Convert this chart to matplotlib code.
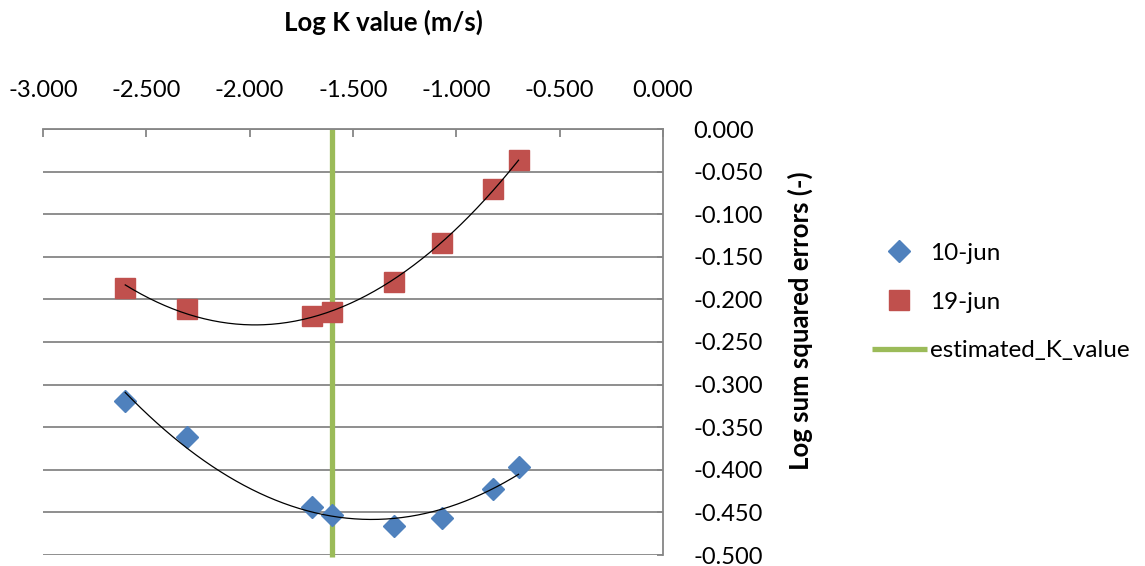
import numpy as np
import matplotlib
matplotlib.use('Agg')
import matplotlib.pyplot as plt

plt.rcParams['font.family'] = ['Lato', 'DejaVu Sans']

# log10 of K values tried (m/s)
log_k = [-2.602, -2.301, -1.699, -1.602, -1.301, -1.071, -0.824, -0.699]
# log sum squared errors per date
jun10 = [-0.319, -0.362, -0.444, -0.453, -0.466, -0.456, -0.422, -0.397]
jun19 = [-0.187, -0.211, -0.220, -0.215, -0.179, -0.134, -0.071, -0.036]
estimated_k = -1.602

x_ticks = [-3.0, -2.5, -2.0, -1.5, -1.0, -0.5, 0.0]
y_ticks = [0.0, -0.05, -0.1, -0.15, -0.2, -0.25, -0.3, -0.35, -0.4, -0.45, -0.5]

GRID = '#868686'
W, H = 1145, 566

fig = plt.figure(figsize=(W / 100, H / 100), dpi=100)
ax = fig.add_axes([43 / W, 1 - 555 / H, 620 / W, 426 / H])

ax.set_xlim(-3.0, 0.0)
ax.set_ylim(-0.5, 0.0)

for y in y_ticks:
    ax.axhline(y, color=GRID, lw=1.3, zorder=1)

# quadratic trendlines (like Excel's polynomial trendline)
xs = np.linspace(min(log_k), max(log_k), 200)
for series in (jun10, jun19):
    coef = np.polyfit(log_k, series, 2)
    ax.plot(xs, np.polyval(coef, xs), color='black', lw=0.9, zorder=4)

ax.plot(log_k, jun10, linestyle='none', marker='D', ms=11, color='#4F81BD',
        label='10-jun', zorder=3)
ax.plot(log_k, jun19, linestyle='none', marker='s', ms=14, color='#C0504D',
        label='19-jun', zorder=3)
ax.plot([estimated_k, estimated_k], [-0.5025, 0.0], color='#9BBB59', lw=3.8,
        label='estimated_K_value', zorder=2, clip_on=False, solid_capstyle='butt')

# axes: x on top, y on the right, as in the Excel chart
for side in ('left', 'bottom'):
    ax.spines[side].set_visible(False)
for side in ('top', 'right'):
    ax.spines[side].set_color(GRID)
    ax.spines[side].set_linewidth(1.3)

ax.xaxis.tick_top()
ax.yaxis.tick_right()
ax.set_xticks(x_ticks)
ax.set_xticklabels(['%.3f' % v for v in x_ticks])
ax.set_yticks(y_ticks)
ax.set_yticklabels(['%.3f' % v for v in y_ticks])
ax.tick_params(axis='x', direction='in', length=6, width=1.3, color=GRID,
               labelsize=17, pad=20)
ax.tick_params(axis='y', direction='in', length=4, width=1.3, color=GRID,
               labelsize=17, pad=22)

# axis titles placed where Excel put them
fig.text(383 / W, 1 - 22 / H, 'Log K value (m/s)', fontsize=18.5,
         fontweight='bold', ha='center', va='center')
fig.text(800 / W, 1 - 321 / H, 'Log sum squared errors (-)', fontsize=18.5,
         fontweight='bold', rotation=90, ha='center', va='center')

fig.legend(loc='center left', bbox_to_anchor=(872 / W, 1 - 302 / H),
           frameon=False, fontsize=17.5, handlelength=2.25, handletextpad=0.12,
           labelspacing=1.15, borderpad=0, borderaxespad=0)

fig.savefig('out.png', dpi=100)
